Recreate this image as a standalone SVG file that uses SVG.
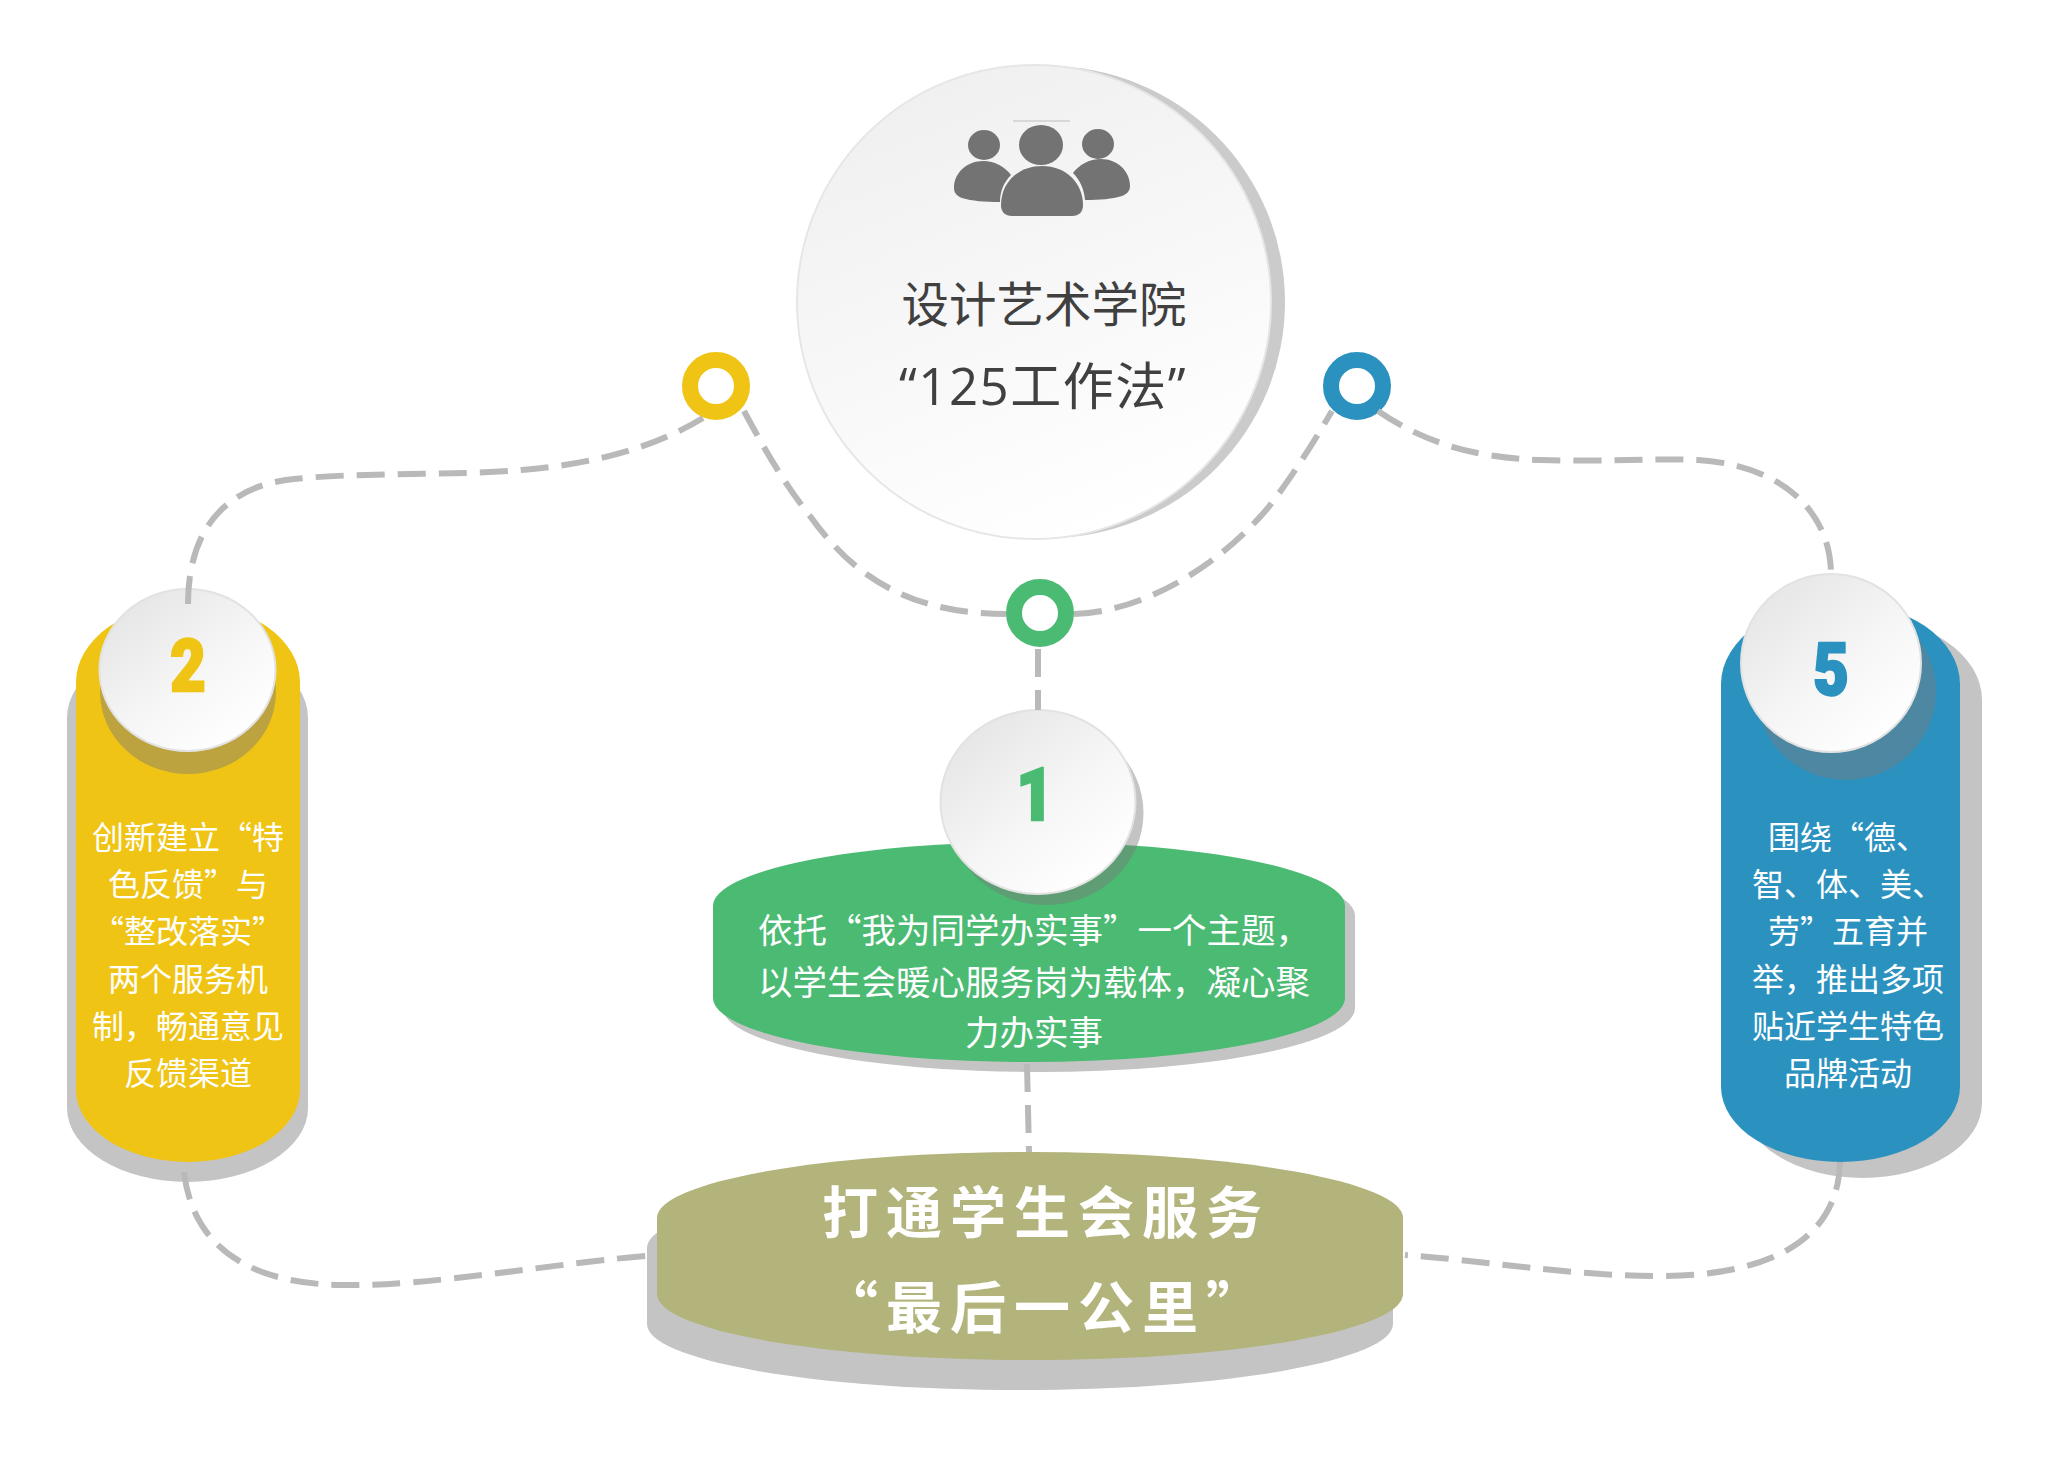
<svg xmlns="http://www.w3.org/2000/svg" width="2048" height="1457" viewBox="0 0 2048 1457">
<style>
.cn{font-family:"Noto Sans CJK SC","Noto Sans",sans-serif;text-anchor:middle}
.body{font-size:32px;fill:#fff;font-weight:400}
.green{font-size:34.500px;fill:#fff;font-weight:400}
.title{font-size:47.500px;fill:#404040;font-weight:400}
.title2{font-family:"Open Sans","Noto Sans CJK SC",sans-serif;font-size:51px;fill:#404040;font-weight:400;text-anchor:middle;letter-spacing:1.500px}
.big{font-size:56px;fill:#fff;font-weight:700;letter-spacing:8px}
.num{font-family:Roboto,"Liberation Sans",sans-serif;font-weight:900;font-size:72px;text-anchor:middle;stroke-width:2.500px}
.sh{fill:#c4c4c4}
.osh{fill:#787878;fill-opacity:.44}
.disc{fill:url(#disc);stroke:#e2e2e2;stroke-width:2}
.ring{fill:#fff;stroke-width:16}
.icon{fill:#737373}
.dash{fill:none;stroke:#b9b9b9;stroke-width:6;stroke-dasharray:28 13}
</style>
<defs>
<linearGradient id="disc" x1=".15" y1=".1" x2=".85" y2=".9"><stop offset="0" stop-color="#e6e6e6"/><stop offset=".55" stop-color="#f6f6f6"/><stop offset="1" stop-color="#fff"/></linearGradient>
<linearGradient id="hub" x1=".2" y1="0" x2=".6" y2="1"><stop offset="0" stop-color="#efefef"/><stop offset="1" stop-color="#fff"/></linearGradient>
</defs>
<rect width="2048" height="1457" fill="#fff"/>

<g id="node-hub">
<ellipse cx="1048" cy="302" rx="237" ry="236" fill="#cbcbcb"/>
<ellipse cx="1034" cy="302" rx="237" ry="237" fill="url(#hub)" stroke="#e6e6e6" stroke-width="2"/>
<line x1="1013" y1="121" x2="1070" y2="121" stroke="#bdbdbd" stroke-width="1"/>
<ellipse class="icon" cx="984" cy="145" rx="16" ry="15"/>
<ellipse class="icon" cx="1098" cy="144" rx="16" ry="15"/>
<ellipse class="icon" cx="1041" cy="145" rx="22" ry="20"/>
<path class="icon" d="M954 188C954 172 968 161 983 161C995 161 1005 167 1011 175C1004 182 1000 191 1000 202C985 202 972 201 962 198C957 196 954 193 954 188Z"/>
<path class="icon" d="M1130 186C1130 170 1116 159 1101 159C1089 159 1079 165 1073 173C1080 180 1084 189 1085 200C1100 200 1112 199 1122 196C1127 194 1130 191 1130 186Z"/>
<path class="icon" d="M1001 205C1001 183 1018 166 1042 166C1066 166 1083 183 1083 205C1083 212 1079 216 1072 216L1012 216C1005 216 1001 212 1001 205Z"/>
<text class="cn title" x="1044" y="322">设计艺术学院</text>
<text class="title2" x="1043" y="405">“125工作法”</text>
</g>

<g id="node-ring-yellow"><circle class="ring" cx="716" cy="386" r="26" stroke="#f0c415"/></g>
<g id="node-ring-blue"><circle class="ring" cx="1357" cy="386" r="26" stroke="#2b92c0"/></g>
<g id="node-ring-green"><circle class="ring" cx="1040" cy="613" r="26" stroke="#4bba72"/></g>

<g id="node-2">
<path class="sh" d="M67 718A120.500 78 0 0 1 308 718V1108A120.500 74 0 0 1 67 1108Z"/>
<path fill="#f0c415" d="M76 682A112 78 0 0 1 300 682V1090A112 72 0 0 1 76 1090Z"/>
<ellipse class="osh" cx="188" cy="692" rx="88" ry="82"/>
<ellipse class="disc" cx="187.500" cy="670" rx="88" ry="81"/>
<text class="num" transform="translate(188 691) scale(.85 1)" fill="#f0c415" stroke="#f0c415">2</text>
<text class="cn body"><tspan x="188" y="849">创新建立“特</tspan><tspan x="188" y="896">色反馈”与</tspan><tspan x="188" y="943">“整改落实”</tspan><tspan x="188" y="991">两个服务机</tspan><tspan x="188" y="1038">制，畅通意见</tspan><tspan x="188" y="1085">反馈渠道</tspan></text>
</g>

<g id="node-5">
<path class="sh" d="M1743 700A119.500 82 0 0 1 1982 700V1103A119.500 75 0 0 1 1743 1103Z"/>
<path fill="#2b92c0" d="M1721 684A119.500 82 0 0 1 1960 684V1087A119.500 75 0 0 1 1721 1087Z"/>
<ellipse class="osh" cx="1846" cy="691" rx="90" ry="89"/>
<ellipse class="disc" cx="1831" cy="663" rx="90" ry="89"/>
<text class="num" transform="translate(1831 695) scale(.85 1)" fill="#2b92c0" stroke="#2b92c0">5</text>
<text class="cn body"><tspan x="1848" y="849">围绕“德、</tspan><tspan x="1848" y="896">智、体、美、</tspan><tspan x="1848" y="943">劳”五育并</tspan><tspan x="1848" y="991">举，推出多项</tspan><tspan x="1848" y="1038">贴近学生特色</tspan><tspan x="1848" y="1085">品牌活动</tspan></text>
</g>

<g id="node-1">
<rect class="sh" x="723" y="852" width="632" height="220" rx="316" ry="64"/>
<rect x="713" y="842" width="632" height="220" rx="316" ry="64" fill="#4bba72"/>
<ellipse class="osh" cx="1046" cy="813" rx="97.500" ry="92"/>
<ellipse class="disc" cx="1038" cy="802" rx="97.500" ry="92"/>
<text class="num" transform="translate(1035 820) scale(.9 1)" fill="#4bba72" stroke="#4bba72">1</text>
<text class="cn green"><tspan x="1034" y="943">依托“我为同学办实事”一个主题，</tspan><tspan x="1034" y="995">以学生会暖心服务岗为载体，凝心聚</tspan><tspan x="1034" y="1045">力办实事</tspan></text>
</g>

<g id="node-goal">
<rect class="sh" x="647" y="1182" width="746" height="208" rx="373" ry="66"/>
<rect x="657" y="1152" width="746" height="208" rx="373" ry="66" fill="#b3b37c"/>
<text class="cn big" x="1046" y="1233">打通学生会服务</text>
<text class="cn big" x="1046" y="1328">“最后一公里”</text>
</g>

<g id="connectors">
<path class="dash" d="M188 604C188 530 225 486 294 479C360 472 450 476 522 470C590 464 650 450 703 418"/>
<path class="dash" d="M744 411C765 450 785 485 810 516C850 572 905 614 1006 614"/>
<path class="dash" d="M1074 614C1140 612 1215 570 1267 509C1290 480 1312 445 1332 411"/>
<path class="dash" d="M1378 411C1420 440 1470 458 1541 460C1600 462 1650 458 1698 460C1780 465 1831 510 1831 575"/>
<path class="dash" d="M1038 649L1038 710"/>
<path class="dash" d="M1027 1064L1029 1152"/>
<path class="dash" d="M184 1172C192 1240 240 1283 340 1285C430 1287 560 1262 657 1255"/>
<path class="dash" d="M1840 1162C1838 1240 1770 1276 1659 1276C1570 1276 1480 1260 1405 1255"/>
</g>
</svg>
